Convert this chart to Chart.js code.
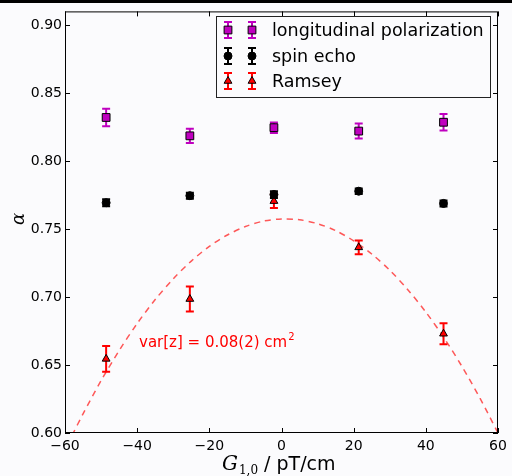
<!DOCTYPE html>
<html>
<head>
<meta charset="utf-8">
<script src="https://cdn.jsdelivr.net/npm/chart.js@4.4.1/dist/chart.umd.min.js"></script>
<style>
  html, body { margin: 0; padding: 0; background: #fbfbfd; }
  canvas { display: block; }
</style>
</head>
<body>
<canvas id="alphaChart" width="512" height="476"></canvas>
<script>
// gradient positions (pT/cm)
const gradients = [-48.6, -25.4, -2.1, 21.4, 44.9];

// measured alpha per method, with 1-sigma errors
const longitudinal = [0.832, 0.8185, 0.8245, 0.822, 0.8285];
const longitudinalErr = [0.0065, 0.0053, 0.0039, 0.0055, 0.006];
const spinEcho = [0.7693, 0.7745, 0.7753, 0.7778, 0.7688];
const spinEchoErr = [0.0025, 0.0022, 0.0025, 0.002, 0.0022];
const ramsey = [0.6545, 0.6985, 0.7705, 0.7365, 0.673];
const ramseyErr = [0.0095, 0.0092, 0.005, 0.005, 0.0077];

// fitted Ramsey curve, sampled every 5 pT/cm
const fitX = [-58, -55, -50, -45, -40, -35, -30, -25, -20, -15, -10, -5, 0,
              5, 10, 15, 20, 25, 30, 35, 40, 45, 50, 55, 60];
const fitY = [0.5984, 0.6141, 0.6385, 0.6606, 0.6805, 0.6981, 0.7134, 0.7264, 0.7372,
              0.7456, 0.7518, 0.7558, 0.7574, 0.7568, 0.7539, 0.7488, 0.7413, 0.7316,
              0.7197, 0.7054, 0.6889, 0.6701, 0.6490, 0.6256, 0.6000];

const xTicks = [-60, -40, -20, 0, 20, 40, 60];
const yTicks = [0.60, 0.65, 0.70, 0.75, 0.80, 0.85, 0.90];

const seriesNames = ['longitudinal polarization', 'spin echo', 'Ramsey'];
const fitLabel = 'var[z] = 0.08(2) cm';

const MAGENTA = '#bf00bf';
const RED = '#ff0000';
const SANS = '"DejaVu Sans", sans-serif';
const SERIF = '"DejaVu Serif", serif';

const toPoints = (xs, ys) => xs.map((x, i) => ({ x: x, y: ys[i] }));

const series = [
    { values: longitudinal, errors: longitudinalErr, color: MAGENTA, style: 'rect', radius: 5.5 },
    { values: spinEcho, errors: spinEchoErr, color: '#000000', style: 'circle', radius: 4 },
    { values: ramsey, errors: ramseyErr, color: RED, style: 'triangle', radius: 4.5 }
];

function drawErrorBar(ctx, x, yTop, yBot, color) {
    ctx.save();
    ctx.strokeStyle = color;
    ctx.lineWidth = 2;
    ctx.beginPath();
    ctx.moveTo(x, yTop); ctx.lineTo(x, yBot);
    ctx.moveTo(x - 4, yTop); ctx.lineTo(x + 4, yTop);
    ctx.moveTo(x - 4, yBot); ctx.lineTo(x + 4, yBot);
    ctx.stroke();
    ctx.restore();
}

function drawMarker(ctx, s, x, y) {
    Chart.helpers.drawPoint(ctx, {
        pointStyle: s.style, radius: s.radius, borderWidth: 1, rotation: 0
    }, x, y);
}

const framePlugin = {
    id: 'frame',
    beforeDraw(chart) {
        const ctx = chart.ctx;
        ctx.save();
        ctx.fillStyle = '#fbfbfd';
        ctx.fillRect(0, 0, chart.width, chart.height);
        ctx.fillStyle = '#000';
        ctx.fillRect(0, 0, chart.width, 3);
        ctx.restore();
    },
    beforeDatasetsDraw(chart) {
        const ctx = chart.ctx;
        const xs = chart.scales.x, ys = chart.scales.y;
        series.forEach(s => {
            gradients.forEach((g, i) => {
                const px = xs.getPixelForValue(g);
                drawErrorBar(ctx, px,
                    ys.getPixelForValue(s.values[i] + s.errors[i]),
                    ys.getPixelForValue(s.values[i] - s.errors[i]), s.color);
            });
        });
    },
    afterDatasetsDraw(chart) {
        const ctx = chart.ctx;
        const a = chart.chartArea;
        const xs = chart.scales.x, ys = chart.scales.y;

        // box and inward ticks on all four sides
        ctx.save();
        ctx.strokeStyle = '#000';
        ctx.lineWidth = 1;
        ctx.strokeRect(a.left + 0.5, a.top + 0.5, a.right - a.left - 1, a.bottom - a.top - 1);
        ctx.beginPath();
        xTicks.forEach(v => {
            const px = Math.round(xs.getPixelForValue(v)) + 0.5;
            ctx.moveTo(px, a.bottom); ctx.lineTo(px, a.bottom - 5);
            ctx.moveTo(px, a.top); ctx.lineTo(px, a.top + 5);
        });
        yTicks.forEach(v => {
            const py = Math.round(ys.getPixelForValue(v)) + 0.5;
            ctx.moveTo(a.left, py); ctx.lineTo(a.left + 5, py);
            ctx.moveTo(a.right, py); ctx.lineTo(a.right - 5, py);
        });
        ctx.stroke();

        // fit annotation
        ctx.fillStyle = RED;
        ctx.font = '15px ' + SANS;
        ctx.textBaseline = 'alphabetic';
        ctx.fillText(fitLabel, 139, 347);
        const w = ctx.measureText(fitLabel).width;
        ctx.font = '10px ' + SANS;
        ctx.fillText('2', 139 + w + 1, 340);

        // legend
        const lx = 216, ly = 16, lw = 274, lh = 81;
        ctx.fillStyle = '#fbfbfd';
        ctx.fillRect(lx, ly, lw, lh);
        ctx.strokeStyle = '#222';
        ctx.strokeRect(lx + 0.5, ly + 0.5, lw, lh);
        const rows = [30, 56, 81];
        series.forEach((s, i) => {
            [228, 252].forEach(hx => {
                drawErrorBar(ctx, hx, rows[i] - 8, rows[i] + 8, s.color);
                ctx.fillStyle = s.color;
                ctx.strokeStyle = '#000';
                drawMarker(ctx, s, hx, rows[i]);
            });
            ctx.fillStyle = '#000';
            ctx.font = '17.5px ' + SANS;
            ctx.textBaseline = 'middle';
            ctx.fillText(seriesNames[i], 272, rows[i] + 1);
        });

        // axis titles
        ctx.fillStyle = '#000';
        ctx.textBaseline = 'alphabetic';
        let tx = 222;
        const by = 470;
        ctx.font = 'italic 20px ' + SERIF;
        ctx.fillText('G', tx, by);
        tx += ctx.measureText('G').width + 1;
        ctx.font = '12px ' + SERIF;
        ctx.fillText('1,0', tx, by + 4);
        tx += ctx.measureText('1,0').width;
        ctx.font = '19px ' + SANS;
        ctx.fillText(' / pT/cm', tx, by);

        ctx.translate(24, 219);
        ctx.rotate(-Math.PI / 2);
        ctx.font = 'italic 18px ' + SERIF;
        ctx.textAlign = 'center';
        ctx.fillText('α', 0, 0);
        ctx.restore();
    }
};

const pointDataset = (s, i) => ({
    label: seriesNames[i],
    data: toPoints(gradients, s.values),
    showLine: false,
    pointStyle: s.style,
    pointRadius: s.radius,
    pointBackgroundColor: s.color,
    pointBorderColor: '#000',
    pointBorderWidth: 1
});

new Chart(document.getElementById('alphaChart'), {
    type: 'scatter',
    data: {
        datasets: [
            ...series.map(pointDataset),
            {
                label: 'fit',
                data: toPoints(fitX, fitY),
                showLine: true,
                borderColor: 'rgba(255, 0, 0, 0.65)',
                borderWidth: 1.5,
                borderDash: [6, 5],
                pointRadius: 0,
                tension: 0.3
            }
        ]
    },
    options: {
        responsive: false,
        animation: false,
        devicePixelRatio: 1,
        layout: { padding: { top: 7, right: 14, left: 0, bottom: 0 } },
        plugins: { legend: { display: false }, tooltip: { enabled: false } },
        scales: {
            x: {
                type: 'linear',
                min: -60,
                max: 60,
                afterBuildTicks: scale => { scale.ticks = xTicks.map(v => ({ value: v })); },
                afterFit: scale => { scale.height = 43; },
                grid: { display: false, drawTicks: false },
                border: { display: false },
                ticks: {
                    color: '#000',
                    padding: 5,
                    maxRotation: 0,
                    font: { family: SANS, size: 14 },
                    callback: v => (v < 0 ? '\u2212' + Math.abs(v) : String(v))
                }
            },
            y: {
                min: 0.60,
                max: 0.91,
                afterBuildTicks: scale => { scale.ticks = yTicks.map(v => ({ value: v })); },
                afterFit: scale => { scale.width = 65; },
                grid: { display: false, drawTicks: false },
                border: { display: false },
                ticks: {
                    color: '#000',
                    padding: 3,
                    font: { family: SANS, size: 14 },
                    callback: v => v.toFixed(2)
                }
            }
        }
    },
    plugins: [framePlugin]
});
</script>
</body>
</html>
